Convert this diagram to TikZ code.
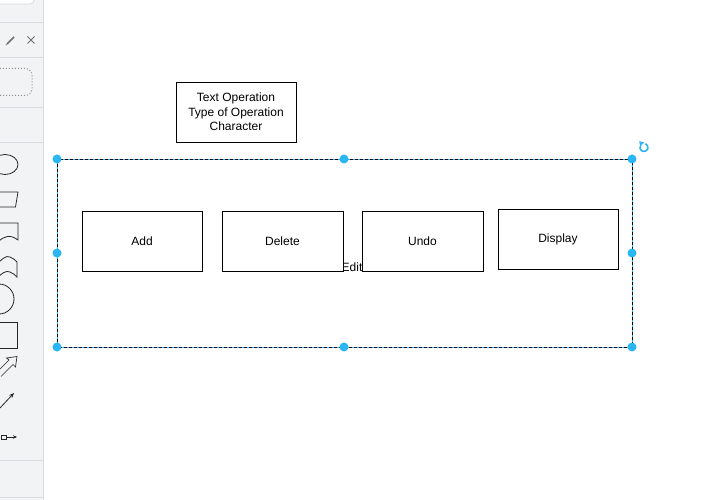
\documentclass[tikz,border=0pt]{standalone}
\usepackage{fontspec}
\setmainfont{Liberation Sans}
\usetikzlibrary{arrows.meta}
\definecolor{selblue}{RGB}{41,182,242}
\definecolor{sidebg}{RGB}{241,243,244}
\definecolor{sideline}{RGB}{218,220,224}
\definecolor{icongray}{RGB}{112,112,112}
\tikzset{
  opbox/.style={draw=black, fill=white, line width=0.9pt, minimum width=120pt, minimum height=60pt, inner sep=0pt, font=\fontsize{12}{14.5}\selectfont},
  plaintext/.style={inner sep=0pt, font=\fontsize{12}{14.5}\selectfont},
  handle/.style={circle, fill=selblue, draw=none, minimum size=9pt, inner sep=0pt},
  sideshape/.style={draw=black!85, line width=0.8pt},
  sep/.style={draw=sideline, line width=0.8pt}
}
\begin{document}
\begin{tikzpicture}[x=1pt,y=-1pt]
\useasboundingbox (0,0) rectangle (710,500);
\fill[white] (0,0) rectangle (710,500);
% ---------- sidebar ----------
\fill[sidebg] (0,0) rectangle (43,500);
\draw[sep] (43.5,0) -- (43.5,500);
\draw[sep, fill=white, rounded corners=4pt] (-6,-10) rectangle (34,4);
\foreach \yy in {22.5,57,107,142,460,497} \draw[sep] (0,\yy) -- (43,\yy);
% pencil and close icons
\draw[icongray, line width=1.6pt] (7,44) -- (14,37);
\draw[icongray, line width=0.6pt] (5.8,45.2) -- (7,44);
\draw[icongray, line width=0.9pt] (27.5,36.5) -- (34.5,43.5) (27.5,43.5) -- (34.5,36.5);
% dotted rounded rect
\draw[icongray!80, line width=1pt, dotted, rounded corners=7pt] (-10,68.5) rectangle (32,95.5);
% shapes
\draw[sideshape] (5,164.5) ellipse [x radius=13, y radius=10];
\draw[sideshape] (-5,192) -- (18,192) -- (15.5,207) -- (-5,207);
\draw[sideshape] (-5,223) -- (18,223) -- (18,240) .. controls (10,234) and (4,236) .. (-2,242);
\draw[sideshape] (-5,266) .. controls (2,259) and (6,255) .. (10,257) .. controls (13,258) and (15,260) .. (17,262) -- (17,277) .. controls (15,275) and (13,273) .. (10,272) .. controls (6,270) and (2,273) .. (-5,280);
\draw[sideshape] (-1,299) circle [radius=15];
\draw[sideshape] (-5,322) rectangle (17,348);
\draw[sideshape, line width=0.7pt] (-3,372) -- (9,360) -- (6.5,358) -- (17,356.5) -- (15.5,367) -- (13,364.5) -- (1,376.5);
\draw[sideshape, line width=0.8pt, -{Stealth[length=5pt,width=4pt]}] (0,408) -- (14,393);
\draw[sideshape, line width=0.8pt, -{Stealth[length=4pt,width=3.5pt]}] (6,437) -- (17,437);
\draw[sideshape, line width=0.7pt] (1,435) rectangle (6,439);
% ---------- diagram ----------
\node[draw=black, fill=white, line width=0.9pt, minimum width=120pt, minimum height=60pt, inner sep=0pt, align=center, font=\fontsize{12}{14.5}\selectfont] (op) at (236,112) {Text Operation\\Type of Operation\\Character};
% selection frame
\coordinate (tl) at (57,159);
\coordinate (br) at (632,347);
\draw[selblue, line width=0.8pt] (tl) rectangle (br);
\draw[black, line width=0.8pt, dash pattern=on 3pt off 2pt] (tl) rectangle (br);
\node[plaintext] (edit) at (352,267) {Edit};
\node[opbox] (add) at (142,241) {Add};
\node[opbox, minimum width=121pt] (del) at (282.5,241) {Delete};
\node[opbox, minimum width=121pt] (undo) at (422.5,241) {Undo};
\node[opbox] (disp) at (558,239) {Display};
% handles
\foreach \hx/\hy [count=\i] in {57/159,344/159,632/159,57/253,632/253,57/347,344/347,632/347}
  \node[handle] (h\i) at (\hx,\hy) {};
% rotate icon (centre 644,147.5)
\draw[selblue, line width=1.6pt] (644,147.5) ++(-70:4) arc[start angle=-70, end angle=215, radius=4];
\fill[selblue] (639.2,141.2) -- (644.2,142.4) -- (640.2,146.2) -- cycle;
\end{tikzpicture}
\end{document}
